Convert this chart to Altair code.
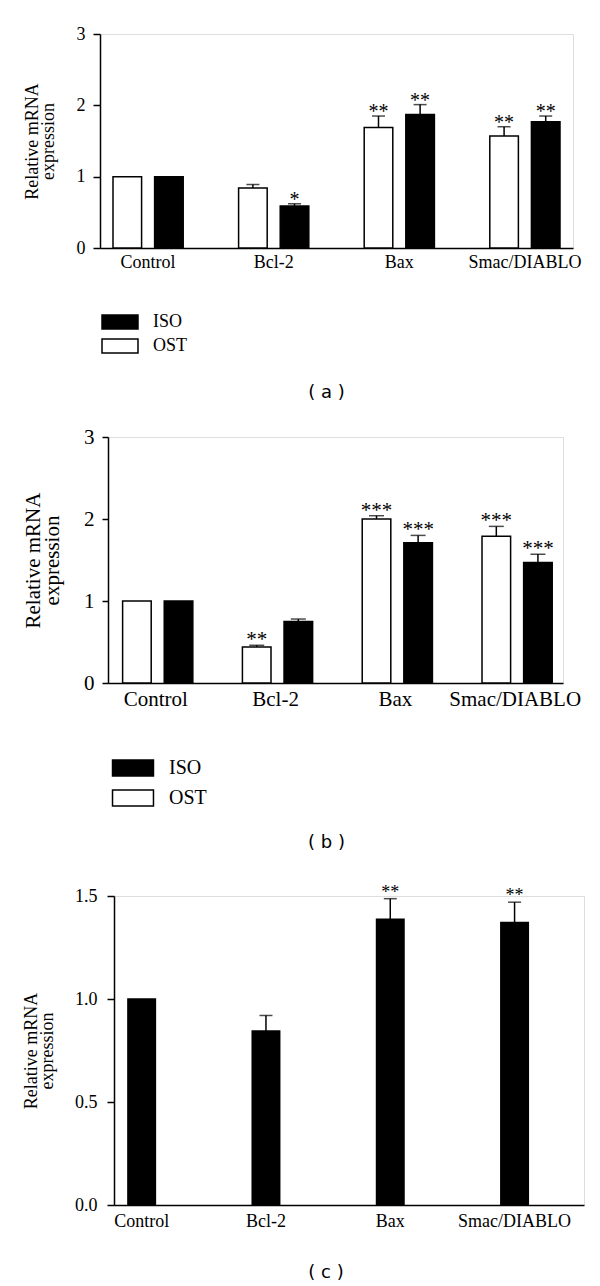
import altair as alt
import pandas as pd

categories = ["Control", "Bcl-2", "Bax", "Smac/DIABLO"]
slots = ["OST", "ISO"]
legend_order = ["ISO", "OST"]

# panel (a)
a_ost = [1.00, 0.84, 1.69, 1.57]
a_ost_upper = [None, 0.89, 1.85, 1.70]
a_ost_sig = ["", "", "**", "**"]
a_iso = [1.00, 0.59, 1.87, 1.77]
a_iso_upper = [None, 0.62, 2.01, 1.85]
a_iso_sig = ["", "*", "**", "**"]

# panel (b)
b_ost = [1.00, 0.44, 2.00, 1.79]
b_ost_upper = [None, 0.46, 2.04, 1.91]
b_ost_sig = ["", "**", "***", "***"]
b_iso = [1.00, 0.75, 1.71, 1.47]
b_iso_upper = [None, 0.78, 1.80, 1.57]
b_iso_sig = ["", "", "***", "***"]

# panel (c)
c_vals = [1.00, 0.845, 1.387, 1.371]
c_upper = [None, 0.92, 1.487, 1.47]
c_sig = ["", "", "**", "**"]

a_ticks = [0, 1, 2, 3]
b_ticks = [0, 1, 2, 3]
c_ticks = [0, 0.5, 1.0, 1.5]

SERIF = "Liberation Serif"
ytitle = ["Relative mRNA", "expression"]


def make_df(ost, ost_up, ost_sig, iso, iso_up, iso_sig):
    rows = []
    for i, c in enumerate(categories):
        rows.append({"cat": c, "grp": "OST", "val": ost[i], "upper": ost_up[i], "sig": ost_sig[i]})
        rows.append({"cat": c, "grp": "ISO", "val": iso[i], "upper": iso_up[i], "sig": iso_sig[i]})
    return pd.DataFrame(rows)


def axes(ticks, fmt, fs, tfs, tick_size, label_pad, title_pad, xlab_pad):
    xaxis = alt.Axis(title=None, ticks=False, labelFontSize=fs, labelPadding=xlab_pad,
                     labelAngle=0, labelFont=SERIF, labelColor="black",
                     domainColor="black", domainWidth=1.5)
    yaxis = alt.Axis(values=ticks, format=fmt, title=ytitle, grid=False, tickSize=tick_size,
                     labelPadding=label_pad, labelFontSize=tfs, titleFontSize=fs,
                     titlePadding=title_pad, titleLineHeight=fs - 2, labelFont=SERIF,
                     titleFont=SERIF, titleFontWeight="normal", labelColor="black",
                     titleColor="black", domainColor="black", domainWidth=1.5,
                     tickColor="black", tickWidth=1.5)
    return xaxis, yaxis


def caption_title(text, offset, dx):
    return alt.TitleParams(text, orient="bottom", anchor="middle", frame="group", dx=dx,
                           font="DejaVu Sans", fontSize=18, fontWeight="normal",
                           offset=offset, color="black")


def grouped_panel(df, width, height, ticks, pi, po, pi2, cap, fs, tfs, sfs, sig_dy,
                  tick_size, label_pad, title_pad, leg, caption, cap_off, cap_dx):
    xaxis, yaxis = axes(ticks, "d", fs, tfs, tick_size, label_pad, title_pad, 5)
    xscale = alt.Scale(domain=categories, paddingInner=pi, paddingOuter=po)
    oscale = alt.Scale(domain=slots, paddingInner=pi2, paddingOuter=0)
    yscale = alt.Scale(domain=[ticks[0], ticks[-1]], nice=False)

    def X():
        return alt.X("cat:N", scale=xscale, axis=xaxis)

    def XO():
        return alt.XOffset("grp:N", scale=oscale)

    def Y(field):
        return alt.Y(field + ":Q", scale=yscale, axis=yaxis)

    base = alt.Chart(df)
    bars = base.mark_bar(stroke="black", strokeWidth=1.5).encode(
        x=X(), xOffset=XO(), y=Y("val"),
        fill=alt.Fill("grp:N", scale=alt.Scale(domain=legend_order, range=["black", "white"]),
                      legend=alt.Legend(title=None, orient="none", legendX=leg["x"], legendY=leg["y"],
                                        direction="vertical", symbolType=leg["path"],
                                        symbolSize=leg["size"], symbolStrokeColor="black",
                                        symbolStrokeWidth=1.5, labelFont=SERIF,
                                        labelFontSize=leg["fs"], labelOffset=leg["loff"],
                                        rowPadding=leg["rowpad"], padding=0, labelColor="black")),
    )
    err = base.transform_filter("isValid(datum.upper)").mark_rule(color="black", strokeWidth=1.5).encode(
        x=X(), xOffset=XO(), y=Y("val"), y2="upper:Q")
    caps = base.transform_filter("isValid(datum.upper)").mark_tick(
        color="black", thickness=1.5, size=cap, orient="horizontal").encode(
        x=X(), xOffset=XO(), y=Y("upper"))
    sig = base.transform_filter("datum.sig != ''").mark_text(
        font=SERIF, fontSize=sfs, baseline="alphabetic", dy=sig_dy, color="black").encode(
        x=X(), xOffset=XO(), y=Y("upper"), text="sig:N")
    return alt.layer(bars, err, caps, sig).properties(
        width=width, height=height, title=caption_title(caption, cap_off, cap_dx))


df_a = make_df(a_ost, a_ost_upper, a_ost_sig, a_iso, a_iso_upper, a_iso_sig)
df_b = make_df(b_ost, b_ost_upper, b_ost_sig, b_iso, b_iso_upper, b_iso_sig)

panel_a = grouped_panel(
    df_a, 473, 214, a_ticks, 0.441, 0.1035, 0.313, 13, 18, 18, 20, 2,
    7, 8, 19,
    {"x": 11, "y": 279, "path": "M-2.57,-1L2.57,-1L2.57,1L-2.57,1Z", "size": 196,
     "fs": 18, "loff": 24, "rowpad": 4},
    "( a )", 28, -10)

panel_b = grouped_panel(
    df_b, 455, 246, b_ticks, 0.446, 0.122, 0.335, 15, 21, 21, 21, 1,
    6, 8, 21,
    {"x": 15, "y": 321, "path": "M-2.56,-1L2.56,-1L2.56,1L-2.56,1Z", "size": 256,
     "fs": 20, "loff": 26, "rowpad": 8},
    "( b )", 25, -9)

# panel (c): single series
df_c = pd.DataFrame({"cat": categories, "val": c_vals, "upper": c_upper, "sig": c_sig})
xaxis_c, yaxis_c = axes(c_ticks, ".1f", 18, 18, 7, 10, 18, 7)
xscale_c = alt.Scale(domain=categories, paddingInner=0.779, paddingOuter=0.28, align=0.2)
yscale_c = alt.Scale(domain=[0, 1.5], nice=False)


def XC():
    return alt.X("cat:N", scale=xscale_c, axis=xaxis_c)


def YC(field):
    return alt.Y(field + ":Q", scale=yscale_c, axis=yaxis_c)


base_c = alt.Chart(df_c)
bars_c = base_c.mark_bar(fill="black", stroke="black", strokeWidth=1.5).encode(x=XC(), y=YC("val"))
err_c = base_c.transform_filter("isValid(datum.upper)").mark_rule(color="black", strokeWidth=1.5).encode(
    x=XC(), y=YC("val"), y2="upper:Q")
caps_c = base_c.transform_filter("isValid(datum.upper)").mark_tick(
    color="black", thickness=1.5, size=13, orient="horizontal").encode(x=XC(), y=YC("upper"))
sig_c = base_c.transform_filter("datum.sig != ''").mark_text(
    font=SERIF, fontSize=18, baseline="alphabetic", dy=-1, color="black").encode(
    x=XC(), y=YC("upper"), text="sig:N")
panel_c = alt.layer(bars_c, err_c, caps_c, sig_c).properties(
    width=470, height=309, title=caption_title("( c )", 34, -23))


def spacer():
    return alt.Chart(pd.DataFrame({"v": [0]})).mark_point(opacity=0).properties(width=1, height=1)


def row(panel):
    return alt.hconcat(spacer(), panel, spacing=0).resolve_scale(
        fill="independent").resolve_legend(fill="independent")


top_two = alt.vconcat(row(panel_a), row(panel_b), spacing=22).resolve_scale(
    fill="independent").resolve_legend(fill="independent")

chart = alt.vconcat(top_two, row(panel_c), spacing=30).resolve_scale(
    fill="independent"
).resolve_legend(fill="independent").properties(
    padding={"left": 7, "top": 16, "right": 5, "bottom": 0}
).configure_view(strokeWidth=0).configure(background="white")

chart.save("out.html", embed_options={"renderer": "svg", "actions": False})
